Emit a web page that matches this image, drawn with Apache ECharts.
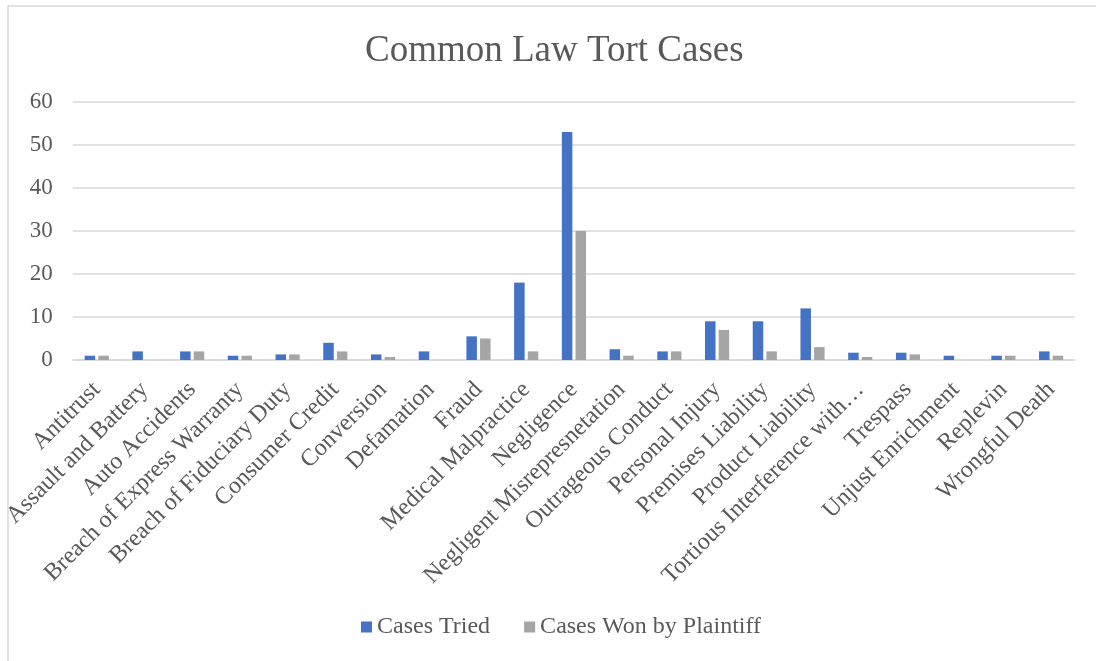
<!DOCTYPE html>
<html>
<head>
<meta charset="utf-8">
<script src="https://cdn.jsdelivr.net/npm/echarts@6/dist/echarts.min.js"></script>
<style>
  html, body { margin: 0; padding: 0; background: #fff; }
  #main { width: 1096px; height: 661px; }
</style>
</head>
<body>
<div id="main"></div>
<script>
var categories = ['Antitrust', 'Assault and Battery', 'Auto Accidents', 'Breach of Express Warranty',
  'Breach of Fiduciary Duty', 'Consumer Credit', 'Conversion', 'Defamation', 'Fraud',
  'Medical Malpractice', 'Negligence', 'Negligent Misrepresnetation', 'Outrageous Conduct',
  'Personal Injury', 'Premises Liability', 'Product Liability', 'Tortious Interference with\u2026',
  'Trespass', 'Unjust Enrichment', 'Replevin', 'Wrongful Death']
var casesTried = [1, 2, 2, 1, 1.3, 4, 1.3, 2, 5.5, 18, 53, 2.5, 2, 9, 9, 12, 1.7, 1.7, 1, 1, 2]
var casesWon = [1, 0, 2, 1, 1.3, 2, 0.7, 0, 5, 2, 30, 1, 2, 7, 2, 3, 0.7, 1.3, 0, 1, 1]

var font = "'Liberation Serif', 'Times New Roman', serif"
var textColor = '#595959'

var myChart = echarts.init(document.getElementById('main'))
var option = {
  backgroundColor: '#fff',
  textStyle: { fontFamily: font },
  // Excel chart-area border, clipped on right and bottom
  graphic: [{
    type: 'rect',
    shape: { x: 8, y: 6, width: 1200, height: 800 },
    style: { fill: 'none', stroke: '#D9D9D9', lineWidth: 1.5 },
    silent: true
  }],
  title: {
    text: 'Common Law Tort Cases',
    left: 360,
    top: 28,
    textStyle: { fontFamily: font, fontSize: 37, fontWeight: 'normal', color: textColor }
  },
  legend: {
    bottom: 17,
    left: 356,
    itemWidth: 11,
    itemHeight: 11,
    itemGap: 34,
    icon: 'rect',
    textStyle: { fontFamily: font, fontSize: 24, color: textColor }
  },
  grid: {
    left: 72,
    right: 21,
    top: 102,
    bottom: 301
  },
  xAxis: {
    type: 'category',
    data: categories,
    axisLine: { lineStyle: { color: '#D9D9D9', width: 1.5 } },
    axisTick: { show: false },
    axisLabel: {
      rotate: 45,
      interval: 0,
      margin: 26,
      fontFamily: font,
      fontSize: 24,
      color: textColor
    }
  },
  yAxis: {
    type: 'value',
    min: 0,
    max: 60,
    interval: 10,
    axisLine: { show: false },
    axisTick: { show: false },
    splitLine: { lineStyle: { color: '#D9D9D9', width: 1.5 } },
    axisLabel: { fontFamily: font, fontSize: 23, color: textColor, margin: 20 }
  },
  series: [
    {
      name: 'Cases Tried',
      type: 'bar',
      barWidth: 10.5,
      barGap: '30%',
      itemStyle: { color: '#4472C4' },
      data: casesTried
    },
    {
      name: 'Cases Won by Plaintiff',
      type: 'bar',
      barWidth: 10.5,
      barGap: '30%',
      itemStyle: { color: '#A5A5A5' },
      data: casesWon
    }
  ]
}

option && myChart.setOption(option)
</script>
</body>
</html>
